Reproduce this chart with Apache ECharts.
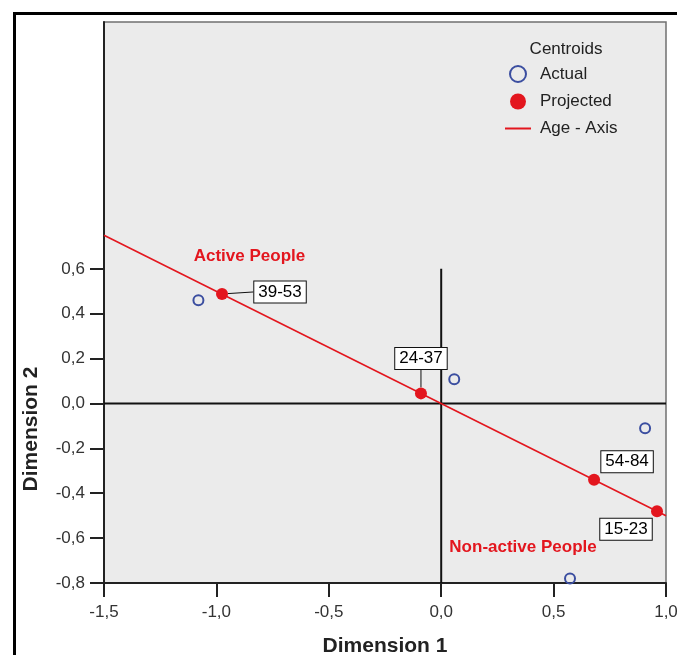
<!DOCTYPE html>
<html>
<head>
<meta charset="utf-8">
<script src="https://cdn.jsdelivr.net/npm/echarts@6/dist/echarts.min.js"></script>
<style>
  html, body { margin: 0; padding: 0; background: #ffffff; }
  #chart { width: 677px; height: 655px; }
</style>
</head>
<body>
<div id="chart"></div>
<script>
// Age-group centroids on the first two dimensions
const ageGroups = ['39-53', '24-37', '54-84', '15-23'];
const projectedDim1 = [-0.975, -0.09, 0.68, 0.96];
const projectedDim2 = [0.488, 0.045, -0.34, -0.48];
const actualDim1 = [-1.08, 0.058, 0.907, 0.573];
const actualDim2 = [0.46, 0.108, -0.11, -0.78];

// Age axis (fitted direction through the origin)
const ageAxisDim1 = [-1.5, 1.0];
const ageAxisDim2 = [0.75, -0.5];

// Group annotations
const regionNames = ['Active People', 'Non-active People'];
const regionDim1 = [-0.853, 0.364];
const regionDim2 = [0.655, -0.643];

// Tick values
const xTicks = [-1.5, -1.0, -0.5, 0.0, 0.5, 1.0];
const yTicks = [-0.8, -0.6, -0.4, -0.2, 0.0, 0.2, 0.4, 0.6];

// Label box shifts (px) from each projected point, and whether a leader line is drawn
const labelShift = [[58, -2], [0, -35], [33, -18], [-31, 18]];
const labelLeader = [true, true, false, false];

const fmt = v => v.toFixed(1).replace('.', ',');
const zip = (a, b) => a.map((v, i) => [v, b[i]]);

const RED = '#e3161e';
const BLUE = '#3b4ea0';
const FONT = '"Liberation Sans", Arial, sans-serif';

const chart = echarts.init(document.getElementById('chart'), null, { renderer: 'canvas' });

chart.setOption({
  backgroundColor: '#ffffff',
  animation: false,
  textStyle: { fontFamily: FONT },
  grid: {
    left: 104, top: 22, width: 562, height: 561,
    outerBoundsMode: 'none', containLabel: false,
    show: true, backgroundColor: '#ebebeb',
    borderColor: '#707070', borderWidth: 1.5
  },
  xAxis: {
    type: 'value', min: -1.5, max: 1.0, interval: 0.5,
    splitLine: { show: false },
    axisLine: { onZero: false, lineStyle: { color: '#222', width: 2 } },
    axisTick: { length: 14, customValues: xTicks, lineStyle: { color: '#222', width: 2 } },
    axisLabel: { customValues: xTicks, formatter: fmt, fontSize: 17, color: '#333', margin: 21, fontFamily: FONT },
    name: 'Dimension 1', nameLocation: 'middle', nameGap: 53,
    nameTextStyle: { fontSize: 21, fontWeight: 'bold', color: '#222', fontFamily: FONT }
  },
  yAxis: {
    type: 'value', min: -0.8, max: 1.7, interval: 0.2,
    splitLine: { show: false },
    axisLine: { onZero: false, lineStyle: { color: '#222', width: 2 } },
    axisTick: { length: 14, customValues: yTicks, lineStyle: { color: '#222', width: 2 } },
    axisLabel: { customValues: yTicks, formatter: fmt, fontSize: 17, color: '#333', margin: 19, fontFamily: FONT }
  },
  legend: {
    orient: 'vertical', left: 505, top: 65, padding: 0,
    itemWidth: 26, itemHeight: 16, itemGap: 10,
    textStyle: { fontSize: 17, color: '#222', lineHeight: 16, padding: [0, 0, 0, 4], fontFamily: FONT },
    data: [
      { name: 'Actual', icon: 'circle', itemStyle: { color: 'transparent', borderColor: BLUE, borderWidth: 2 } },
      { name: 'Projected', icon: 'circle', itemStyle: { color: RED, opacity: 1 } },
      { name: 'Age - Axis', icon: 'path://M0,0H26V2H0Z', itemStyle: { color: RED, opacity: 1 } }
    ]
  },
  graphic: [
    { type: 'rect', left: 12, top: 11, shape: { width: 720, height: 720 },
      style: { fill: 'none', stroke: '#000', lineWidth: 3 }, silent: true },
    { type: 'text', x: 566, y: 49, style: { text: 'Centroids', font: '17px ' + FONT, fill: '#222', align: 'center', verticalAlign: 'middle' } },
    { type: 'text', x: 31, y: 429, rotation: Math.PI / 2,
      style: { text: 'Dimension 2', font: 'bold 21px ' + FONT, fill: '#222', align: 'center', verticalAlign: 'middle' } }
  ],
  series: [
    {
      name: 'zero-h', type: 'line', symbol: 'none', silent: true, z: 1,
      data: [[xTicks[0], 0], [xTicks[xTicks.length - 1], 0]],
      lineStyle: { color: '#111', width: 2 }
    },
    {
      name: 'zero-v', type: 'line', symbol: 'none', silent: true, z: 1,
      data: [[0, yTicks[yTicks.length - 1]], [0, yTicks[0]]],
      lineStyle: { color: '#111', width: 2 }
    },
    {
      name: 'Age - Axis', type: 'line', symbol: 'none', z: 2,
      data: zip(ageAxisDim1, ageAxisDim2),
      lineStyle: { color: RED, width: 1.6 }, itemStyle: { color: RED }
    },
    {
      name: 'Actual', type: 'scatter', symbol: 'circle', symbolSize: 10, z: 3,
      data: zip(actualDim1, actualDim2),
      itemStyle: { color: 'transparent', borderColor: BLUE, borderWidth: 2, opacity: 1 }
    },
    {
      name: 'Projected', type: 'scatter', symbol: 'circle', symbolSize: 12, z: 4,
      data: zip(projectedDim1, projectedDim2).map((p, i) => ({
        value: p, name: ageGroups[i], labelLine: { show: labelLeader[i] }
      })),
      itemStyle: { color: RED, opacity: 1 },
      label: {
        show: true, position: 'inside', formatter: p => p.name,
        fontSize: 17, color: '#000', fontFamily: FONT, opacity: 1,
        backgroundColor: '#ffffff', borderColor: '#111', borderWidth: 1,
        padding: [2, 4, 2, 4], lineHeight: 17
      },
      labelLine: { show: true, lineStyle: { color: '#111', width: 1, opacity: 1 } },
      labelLayout: p => ({ dx: labelShift[p.dataIndex][0], dy: labelShift[p.dataIndex][1] })
    },
    {
      name: 'regions', type: 'scatter', symbolSize: 0, silent: true, z: 5,
      data: zip(regionDim1, regionDim2).map((p, i) => ({ value: p, name: regionNames[i] })),
      itemStyle: { opacity: 1 },
      label: {
        show: true, position: 'inside', formatter: p => p.name, opacity: 1,
        fontSize: 17, fontWeight: 'bold', color: RED, fontFamily: FONT
      }
    }
  ]
});
</script>
</body>
</html>
